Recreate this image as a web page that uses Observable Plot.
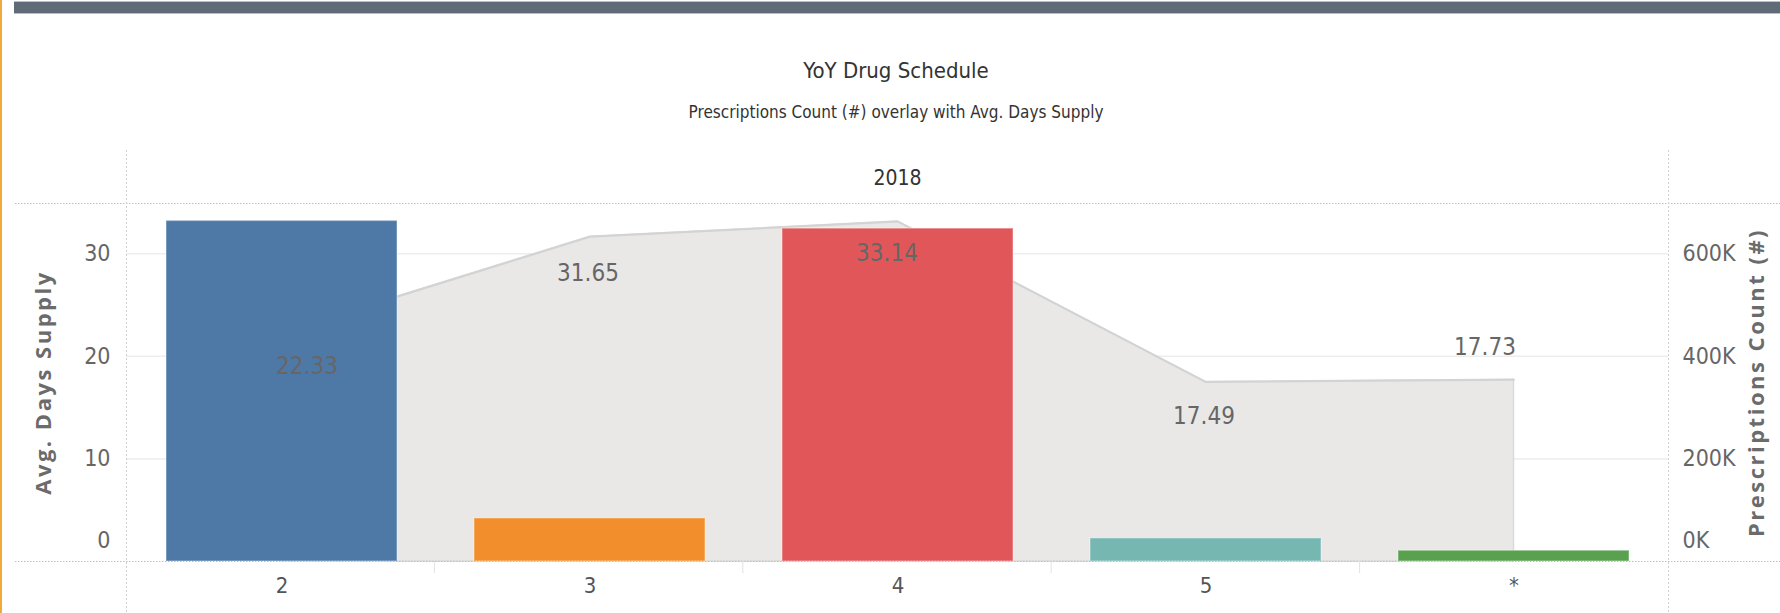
<!DOCTYPE html>
<html>
<head>
<meta charset="utf-8">
<script src="https://cdn.jsdelivr.net/npm/d3@7"></script>
<script src="https://cdn.jsdelivr.net/npm/@observablehq/plot@0.6"></script>
<style>
  html, body { margin: 0; padding: 0; background: #fff; }
  #page { position: relative; width: 1780px; height: 613px; overflow: hidden; background: #fff;
          font-family: 'Liberation Sans Narrow', 'DejaVu Sans', sans-serif; font-stretch: condensed; }
  #edge { position: absolute; left: 0; top: 0; width: 2px; height: 613px; background: #f2a93b; }
  #band { position: absolute; left: 14px; top: 1px; width: 1766px; height: 11px; background: #5f6b77;
          border-top: 1px solid #b9c0c7; border-bottom: 1px solid #b9c0c7; }
  #title { position: absolute; left: 0; width: 1792px; top: 58px; text-align: center; font-size: 22px; color: #333; }
  #subtitle { position: absolute; left: 0; width: 1792px; top: 102px; text-align: center; font-size: 17px; color: #333; }
  #chart { position: absolute; left: 0; top: 140px; }
  #chart svg text { font-stretch: condensed; }
</style>
</head>
<body>
<div id="page">
  <div id="edge"></div>
  <div id="band"></div>
  <div id="title">YoY Drug Schedule</div>
  <div id="subtitle">Prescriptions Count (#) overlay with Avg. Days Supply</div>
  <div id="chart"></div>
</div>
<script>
// ---- data ----
const year = "2018";
const categories = ["2", "3", "4", "5", "*"];
const avgDaysSupply = [22.33, 31.65, 33.14, 17.49, 17.73];
const prescriptionCounts = [664000, 84000, 649000, 45000, 21000];
const barColors = ["#4e79a7", "#f28e2b", "#e15759", "#76b7b2", "#59a14f"];
const leftTicks = [0, 10, 20, 30];
const rightTicks = [0, 200000, 400000, 600000];
const rightTickLabels = ["0K", "200K", "400K", "600K"];

// dual axis synchronisation: 600K on the right lines up with 30 on the left
const countPerDay = rightTicks[3] / leftTicks[3];

const data = categories.map((c, i) => ({cat: c, avg: avgDaysSupply[i], count: prescriptionCounts[i]}));

// label placement (style): [dx, dy]
const labelOffset = {"2": [25, 34], "3": [-2, 36], "4": [-11, 32], "5": [-2, 34], "*": [-29, -32]};

const NARROW = "'Liberation Sans Narrow', 'DejaVu Sans', sans-serif";
const W = 1780, H = 473, mT = 63, mB = 52, mL = 126, mR = 112;

const plot = Plot.plot({
  width: W, height: H,
  marginTop: mT, marginBottom: mB, marginLeft: mL, marginRight: mR,
  style: {fontFamily: NARROW, background: "transparent", overflow: "visible"},
  x: {domain: categories, paddingInner: 0.25, paddingOuter: 0.125, axis: null},
  y: {domain: [0, 34.9], axis: null},
  color: {domain: categories, range: barColors},
  marks: [
    Plot.ruleY(leftTicks.filter(d => d > 0), {stroke: "#ededed", strokeWidth: 1.5}),
    Plot.areaY(data, {x: "cat", y: "avg", fill: "#e9e8e7", stroke: "#d9d9d9", strokeWidth: 1.5}),
    Plot.lineY(data, {x: "cat", y: "avg", stroke: "#d3d3d3", strokeWidth: 2}),
    Plot.barY(data, {x: "cat", y: d => d.count / countPerDay, fill: "cat", stroke: "#ffffff", strokeOpacity: 0.3, strokeWidth: 1.5}),
    ...categories.map(c => Plot.text(data.filter(d => d.cat === c), {
      x: "cat", y: "avg", text: d => d.avg.toFixed(2),
      dx: labelOffset[c][0], dy: labelOffset[c][1],
      fill: "#666", fontSize: 24
    })),
    // header
    Plot.text([year], {frameAnchor: "top", lineAnchor: "middle", dy: -25, fontSize: 21, fill: "#333"}),
    // left axis
    Plot.axisY(leftTicks.filter(d => d > 0), {anchor: "left", tickSize: 0, tickPadding: 16, fontSize: 23, color: "#666", label: null}),
    Plot.axisY([0], {anchor: "left", tickSize: 0, tickPadding: 16, fontSize: 23, color: "#666", label: null, dy: -21}),
    // right axis (prescriptions count)
    Plot.axisY(rightTicks.slice(1).map(v => v / countPerDay), {anchor: "right", tickSize: 0, tickPadding: 14, fontSize: 23, color: "#666", label: null,
      tickFormat: v => rightTickLabels[rightTicks.indexOf(Math.round(v * countPerDay))]}),
    Plot.axisY([0], {anchor: "right", tickSize: 0, tickPadding: 14, fontSize: 23, color: "#666", label: null, dy: -21,
      tickFormat: () => rightTickLabels[0]}),
    // category axis
    Plot.axisX({anchor: "bottom", tickSize: 0, tickPadding: 16, fontSize: 22, color: "#555", label: null}),
    // axis titles
    Plot.text(["Avg. Days Supply"], {frameAnchor: "left", textAnchor: "middle", rotate: -90, dx: -83, fontSize: 22, fontWeight: 700,
      fontFamily: "'Open Sans', sans-serif", fill: "#6b6b6b", className: "wide"}),
    Plot.text(["Prescriptions Count (#)"], {frameAnchor: "right", textAnchor: "middle", rotate: -90, dx: 88, fontSize: 22, fontWeight: 700,
      fontFamily: "'Open Sans', sans-serif", fill: "#6b6b6b", className: "wide"})
  ]
});

document.getElementById("chart").appendChild(plot);
d3.select(plot).selectAll(".wide text").style("letter-spacing", "2.5px").style("font-stretch", "normal");

// frame decorations (dotted pane borders, header divider lines, band dividers)
const svg = d3.select(plot);
const yb = H - mB, yt = mT;
const deco = svg.append("g").attr("fill", "none");
[yt, yb].forEach(y => deco.append("line")
  .attr("x1", 15).attr("x2", W).attr("y1", y + 0.5).attr("y2", y + 0.5)
  .attr("stroke", "#bfbfbf").attr("stroke-dasharray", "1.5,1.5"));
[mL, W - mR].forEach(x => deco.append("line")
  .attr("x1", x + 0.5).attr("x2", x + 0.5).attr("y1", 10).attr("y2", H)
  .attr("stroke", "#cfcfcf").attr("stroke-dasharray", "2,2"));
const step = (W - mL - mR) / categories.length;
d3.range(1, categories.length).forEach(i => deco.append("line")
  .attr("x1", mL + i * step).attr("x2", mL + i * step).attr("y1", yb).attr("y2", yb + 12)
  .attr("stroke", "#e2e2e2"));
</script>
</body>
</html>
